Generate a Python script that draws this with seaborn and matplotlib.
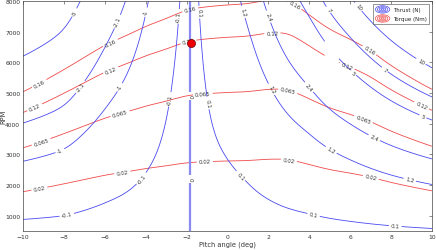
import numpy as np
import matplotlib
matplotlib.use("Agg")
import matplotlib.pyplot as plt
import seaborn as sns
from matplotlib.lines import Line2D
from matplotlib.patches import Ellipse
from matplotlib.legend_handler import HandlerBase

# ---- data ----
# thrust coefficient (N per (kRPM)^2) vs pitch angle
pitch_T = [-10, -9, -8, -7, -6, -5, -4, -3, -2.5, -1.8, -1.2, -0.8, 0, 0.7, 1, 2, 3, 4, 5, 6, 7, 8, 9, 10]
kT = [-0.130, -0.116, -0.101, -0.072, -0.049, -0.033, -0.0168, -0.0052, -0.0016, 0.0,
      0.0016, 0.0063, 0.0120, 0.0190, 0.0225, 0.042, 0.066, 0.088, 0.120, 0.150,
      0.185, 0.222, 0.258, 0.295]
# torque coefficient (Nm per (kRPM)^2) vs pitch angle
pitch_Q = [-10, -9, -8, -7, -6, -5, -4, -3, -2, -1, 0, 1, 2, 3, 4, 5, 6, 7, 8, 9, 10]
kQ = [0.0063, 0.0055, 0.0048, 0.0042, 0.0037, 0.0034, 0.0031, 0.0029, 0.00268, 0.00262,
      0.00258, 0.00256, 0.00247, 0.00247, 0.0028, 0.0032, 0.0035, 0.0039, 0.0046, 0.0053, 0.0061]
# missing measurements (pitch range, rpm range)
hole_pitch = [4.75, 5.45]
hole_rpm = [5800, 6750]

thrust_levels = [-5, -2.1, -1, -0.1, 0.1, 1.2, 2.4, 5, 7, 10]
zero_level = [0]
torque_levels = [0.02, 0.065, 0.12, 0.16]

op_pitch = [-1.8]
op_rpm = [6640]

thrust_label_pos = [(-7.55, 7650), (-5.7, 7420), (-7.2, 5200), (-4.1, 7650), (-5.3, 5200),
                    (-8.2, 3120), (-2.9, 4800), (-2.45, 7500), (-4.25, 2240), (-7.85, 1000),
                    (-1.0, 7650), (-0.7, 4700), (0.64, 2300), (4.2, 1000), (8.2, 640),
                    (0.8, 7650), (2.2, 5140), (5.05, 3120), (8.9, 2140),
                    (2.0, 7490), (4.0, 5200), (7.15, 3510),
                    (6.2, 5700), (9.55, 4230), (4.9, 7700), (7.65, 5730),
                    (6.4, 7810), (9.45, 6020)]
zero_label_pos = [(-1.8, 4900), (-1.8, 2200)]
torque_label_pos = [(-9.2, 1880), (-5.15, 2430), (-1.1, 2730), (3.0, 2800), (7.0, 2240),
                    (-9.1, 3380), (-5.25, 4320), (-1.2, 4900), (2.95, 5070), (6.65, 4160),
                    (-9.4, 4490), (-5.7, 5730), (-1.9, 6640), (2.2, 6900), (5.9, 5960), (9.45, 4550),
                    (-9.2, 5300), (-5.7, 6600), (-1.8, 7650), (3.3, 7900), (6.9, 6350)]

# ---- grid ----
p = np.linspace(-10, 10, 401)
r = np.linspace(500, 8000, 301)


def smooth_coef(px, py, grid, sigma=0.35):
    fine = np.interp(grid, px, py)
    step = grid[1] - grid[0]
    n = int(3 * sigma / step)
    k = np.exp(-0.5 * (np.arange(-n, n + 1) * step / sigma) ** 2)
    k /= k.sum()
    padded = np.pad(fine, n, mode='reflect', reflect_type='odd')
    return np.convolve(padded, k, mode='valid')


cT = smooth_coef(pitch_T, kT, p)
cQ = smooth_coef(pitch_Q, kQ, p)
P, R = np.meshgrid(p, r)
K = (R / 1000.0) ** 2
T = cT[None, :] * K
Q = cQ[None, :] * K
mask = (P > hole_pitch[0]) & (P < hole_pitch[1]) & (R > hole_rpm[0]) & (R < hole_rpm[1])
T = np.ma.array(T, mask=mask)
Q = np.ma.array(Q, mask=mask)

sns.set_theme(style="white")
plt.rcParams['font.family'] = ['DejaVu Sans']

blue = '#4a4af0'
red = '#f04a4a'

fig = plt.figure(figsize=(4.36, 2.51), dpi=100)
ax = fig.add_axes([23 / 436, 1 - 232 / 251, (432 - 23) / 436, (232 - 2) / 251])

cq = ax.contour(P, R, Q, levels=torque_levels, colors=red, linewidths=0.6)
ct = ax.contour(P, R, T, levels=thrust_levels, colors=blue, linewidths=0.6,
                negative_linestyles='solid')
cz = ax.contour(P, R, T, levels=zero_level, colors='#8a8af5', linewidths=1.6)

fmt = lambda v: f'{v:g}'
for cs, pos in [(ct, thrust_label_pos), (cz, zero_label_pos), (cq, torque_label_pos)]:
    ax.clabel(cs, fmt=fmt, fontsize=4, colors='#333333', inline=True,
              inline_spacing=2, manual=pos)

sns.scatterplot(x=op_pitch, y=op_rpm, s=34, color='#ee0000', edgecolor='#700000',
                linewidth=0.5, ax=ax, zorder=10, legend=False)

ax.set_xlim(-10, 10)
ax.set_ylim(500, 8000)
ax.set_xticks(range(-10, 11, 2))
ax.set_yticks(range(1000, 8001, 1000))
ax.tick_params(direction='in', length=2.2, width=0.4, top=True, right=True,
               labelsize=4.3, colors='#333333', pad=2)
for s in ax.spines.values():
    s.set_linewidth(0.5)
    s.set_color('#444444')
ax.set_xlabel('Pitch angle (deg)', fontsize=4.8, color='#333333', labelpad=1.5)
ax.set_ylabel('RPM', fontsize=4.8, color='#333333')
ax.yaxis.set_label_coords(-0.041, 0.5)


class EllHandler(HandlerBase):
    def create_artists(self, legend, orig_handle, xdescent, ydescent, width, height, fontsize, trans):
        cx = width / 2 - xdescent
        cy = height / 2 - ydescent
        arts = []
        for s in [1.0, 0.72, 0.45, 0.2]:
            e = Ellipse((cx, cy), width * s, height * 1.3 * s, fill=False,
                        edgecolor=orig_handle.get_color(), lw=0.5, transform=trans)
            arts.append(e)
        return arts


h1 = Line2D([], [], color=blue)
h2 = Line2D([], [], color=red)
leg = ax.legend([h1, h2], ['Thrust (N)', 'Torque (Nm)'], loc='upper right',
                fontsize=4, frameon=True, fancybox=False, handlelength=2.6, handleheight=1.2,
                handletextpad=0.5, borderpad=0.5, labelspacing=0.6,
                handler_map={h1: EllHandler(), h2: EllHandler()})
leg.get_frame().set_edgecolor('#444444')
leg.get_frame().set_linewidth(0.5)

fig.savefig('out.png', dpi=100)
